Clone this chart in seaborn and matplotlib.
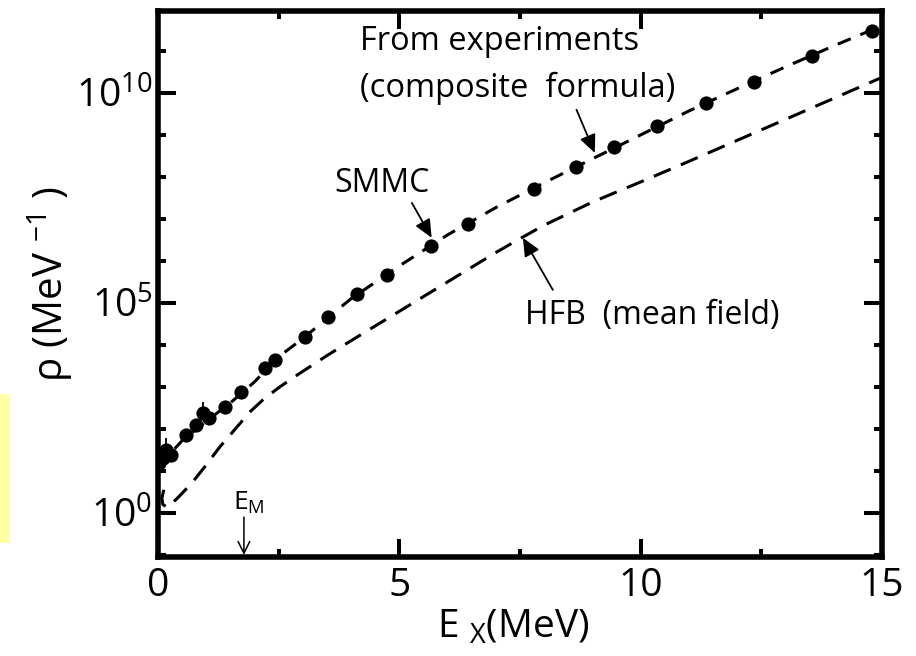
import numpy as np
import pandas as pd
import matplotlib
matplotlib.use("Agg")
import matplotlib.pyplot as plt
from matplotlib.patches import Rectangle
from matplotlib.ticker import FixedLocator, NullFormatter, LogFormatterSciNotation
import seaborn as sns

# SMMC level densities (log10 of rho in MeV^-1) versus excitation energy (MeV)
smmc_E = [0.03, 0.10, 0.17, 0.27, 0.58, 0.79, 0.93, 1.06, 1.39, 1.72, 2.22, 2.43,
          3.05, 3.53, 4.13, 4.75, 5.66, 6.43, 7.80, 8.65, 9.44, 10.33, 11.35,
          12.35, 13.55, 14.80]
smmc_log10_rho = [1.20, 1.31, 1.50, 1.38, 1.86, 2.10, 2.38, 2.26, 2.52, 2.88, 3.45, 3.64,
                  4.19, 4.67, 5.21, 5.67, 6.36, 6.88, 7.71, 8.24, 8.71, 9.21, 9.76,
                  10.26, 10.88, 11.48]

# points carrying an upper error bar
err_E = [0.17, 0.93]
err_log10_low = [1.50, 2.38]
err_log10_high = [1.79, 2.64]

# composite formula fitted to experiments
comp_E = [0, 0.5, 1, 1.5, 2, 2.5, 3, 3.5, 4, 5, 6, 7, 8, 9, 10, 11, 12, 13, 14, 15]
comp_log10_rho = [1.10, 1.72, 2.18, 2.62, 3.12, 3.72, 4.15, 4.63, 5.10, 5.88, 6.62,
                  7.27, 7.86, 8.43, 9.00, 9.57, 10.10, 10.62, 11.12, 11.60]

# HFB (mean field) level density
hfb_E = [0.12, 0.08, 0.10, 0.20, 0.41, 0.70, 0.97, 1.28, 1.64, 1.90, 2.20, 2.50,
         2.80, 3.04, 3.52, 4, 5, 6, 7, 7.5, 8, 9, 10, 11, 12, 13, 14, 15]
hfb_log10_rho = [0.55, 0.35, 0.20, 0.13, 0.36, 0.71, 1.10, 1.57, 2.05, 2.40, 2.72, 2.98,
                 3.22, 3.40, 3.76, 4.10, 4.80, 5.50, 6.20, 6.53, 6.85, 7.40, 7.88, 8.37,
                 8.87, 9.37, 9.87, 10.37]

x_ticks = [0, 5, 10, 15]
x_minor = [2.5, 7.5, 12.5]
y_major_exp = [0, 5, 10]

smmc = pd.DataFrame({"E": smmc_E, "rho": 10.0 ** np.array(smmc_log10_rho)})
comp = pd.DataFrame({"E": comp_E, "rho": 10.0 ** np.array(comp_log10_rho)})
hfb = pd.DataFrame({"E": hfb_E, "rho": 10.0 ** np.array(hfb_log10_rho)})

sns.set_theme(style="ticks")
FONT = "Open Sans"
plt.rcParams["font.family"] = [FONT, "DejaVu Sans"]
plt.rcParams["mathtext.fontset"] = "custom"
plt.rcParams["mathtext.rm"] = FONT
plt.rcParams["mathtext.it"] = FONT
plt.rcParams["axes.linewidth"] = 4.0
for key in ("text.color", "axes.labelcolor", "xtick.color", "ytick.color",
            "xtick.labelcolor", "ytick.labelcolor", "axes.edgecolor"):
    plt.rcParams[key] = "black"

W, H = 916, 656
fig = plt.figure(figsize=(W / 100, H / 100), dpi=100)
fig.patch.set_facecolor("white")
ax = fig.add_axes([158 / W, 1 - 557 / H, (882 - 158) / W, (557 - 11) / H])
ax.set_facecolor("white")

# pale marker strip at the left edge
fig.patches.append(Rectangle((0, 1 - 543 / H), 10 / W, (543 - 394) / H,
                             transform=fig.transFigure, facecolor="#ffffa3",
                             edgecolor="none", zorder=0))

ax.set_yscale("log")

sns.lineplot(data=comp, x="E", y="rho", ax=ax, color="black", lw=2.2,
             sort=False, estimator=None, linestyle=(0, (4.6, 3.4)))
sns.lineplot(data=hfb, x="E", y="rho", ax=ax, color="black", lw=2.2,
             sort=False, estimator=None, linestyle=(0, (6.0, 3.6)))
sns.scatterplot(data=smmc, x="E", y="rho", ax=ax, color="black", s=105,
                edgecolor="black", linewidth=0, zorder=5)
ax.vlines(err_E, 10.0 ** np.array(err_log10_low), 10.0 ** np.array(err_log10_high),
          color="black", lw=1.3, zorder=5)

ax.set_xlim(0, 15)
ax.set_ylim(10 ** -1.05, 10 ** 11.95)

ax.xaxis.set_major_locator(FixedLocator(x_ticks))
ax.xaxis.set_minor_locator(FixedLocator(x_minor))
ax.set_xticklabels([str(v) for v in x_ticks])
ax.yaxis.set_major_locator(FixedLocator([10.0 ** k for k in y_major_exp]))
ax.yaxis.set_minor_locator(FixedLocator([10.0 ** k for k in range(-1, 13) if k not in y_major_exp]))
ax.yaxis.set_major_formatter(LogFormatterSciNotation())
ax.yaxis.set_minor_formatter(NullFormatter())

ax.tick_params(which="both", direction="in", top=True, right=True, width=2.9,
               color="black", labelcolor="black")
ax.tick_params(which="major", length=13)
ax.tick_params(which="minor", length=6)
ax.tick_params(axis="x", which="major", labelsize=28, pad=7)
ax.tick_params(axis="y", which="major", labelsize=28, pad=4)
for sp in ax.spines.values():
    sp.set_color("black")
    sp.set_linewidth(4.0)

ax.set_xlabel(r"E $_{\mathdefault{X}}$(MeV)", fontsize=28, color="black")
ax.set_ylabel(r"ρ (MeV $^{\mathdefault{-1}}$ )", fontsize=29, color="black")
ax.xaxis.set_label_coords(0.49, -0.095)
ax.yaxis.set_label_coords(-0.115, 0.5)

# annotations
ax.text(4.18, 10 ** 11.02, "From experiments", fontsize=23.5, ha="left", va="baseline")
ax.text(4.18, 10 ** 9.90, "(composite  formula)", fontsize=23.5, ha="left", va="baseline")
ax.text(3.66, 10 ** 7.64, "SMMC", fontsize=23, ha="left", va="baseline")
ax.text(7.60, 10 ** 4.50, "HFB  (mean field)", fontsize=23, ha="left", va="baseline")
ax.text(1.88, 10 ** 0.07, r"E$_{\mathdefault{M}}$", fontsize=19, ha="center", va="baseline")

arrow = dict(arrowstyle="-|>,head_length=1.0,head_width=0.45", color="black",
             lw=1.3, mutation_scale=11, shrinkA=0, shrinkB=0)
ax.annotate("", xy=(9.05, 10 ** 8.57), xytext=(8.67, 10 ** 9.60), arrowprops=arrow)
ax.annotate("", xy=(5.67, 10 ** 6.55), xytext=(5.26, 10 ** 7.38), arrowprops=arrow)
ax.annotate("", xy=(7.56, 10 ** 6.55), xytext=(8.18, 10 ** 5.31), arrowprops=arrow)
ax.annotate("", xy=(1.78, 10 ** -1.0), xytext=(1.78, 10 ** -0.1),
            arrowprops=dict(arrowstyle="->,head_length=0.7,head_width=0.35", color="black",
                            lw=1.1, mutation_scale=12, shrinkA=0, shrinkB=0))

fig.savefig("out.png", dpi=100, facecolor="white")
